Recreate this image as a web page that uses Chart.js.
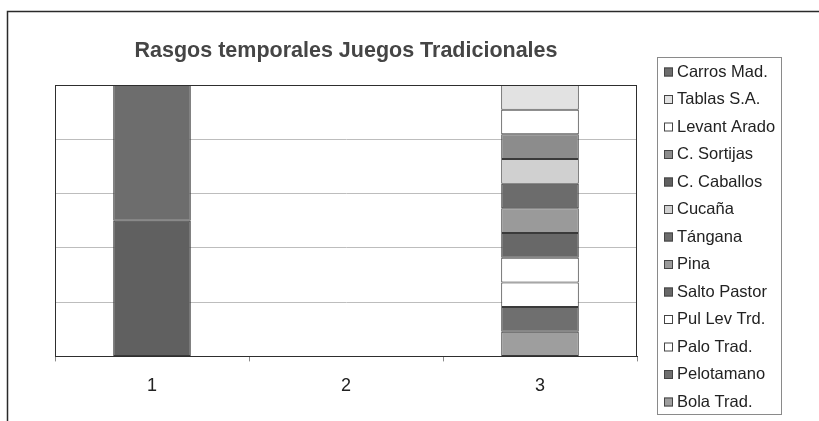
<!DOCTYPE html>
<html>
<head>
<meta charset="utf-8">
<script src="https://cdn.jsdelivr.net/npm/chart.js@4/dist/chart.umd.min.js"></script>
<style>
  html, body { margin: 0; padding: 0; background: #ffffff; }
  #wrap { width: 819px; height: 421px; position: relative; }
</style>
</head>
<body>
<div id="wrap"><canvas id="c" width="819" height="421"></canvas></div>
<script>
// Categories on the x axis
const categories = ['1', '2', '3'];

// Games, listed bottom of the stack first
const games = [
  'Bola Trad.', 'Pelotamano', 'Palo Trad.', 'Pul Lev Trd.', 'Salto Pastor',
  'Pina', 'Tángana', 'Cucaña', 'C. Caballos', 'C. Sortijas',
  'Levant Arado', 'Tablas S.A.', 'Carros Mad.'
];

// Counts per category (1, 2, 3) for each game, same order as above
const bolaTrad    = [0, 0, 1];
const pelotamano  = [0, 0, 1];
const paloTrad    = [0, 0, 1];
const pulLevTrd   = [0, 0, 1];
const saltoPastor = [0, 0, 1];
const pina        = [0, 0, 1];
const tangana     = [0, 0, 1];
const cucana      = [0, 0, 1];
const cCaballos   = [1, 0, 0];
const cSortijas   = [0, 0, 1];
const levantArado = [0, 0, 1];
const tablasSA    = [0, 0, 1];
const carrosMad   = [1, 0, 0];

const counts = [bolaTrad, pelotamano, paloTrad, pulLevTrd, saltoPastor, pina,
  tangana, cucana, cCaballos, cSortijas, levantArado, tablasSA, carrosMad];

// Grey fills for each game
const fills = ['#9e9e9e', '#6f6f6f', '#ffffff', '#ffffff', '#686868', '#9a9a9a',
  '#6c6c6c', '#d0d0d0', '#606060', '#8c8c8c', '#ffffff', '#e2e2e2', '#6d6d6d'];

// 100% stacked: share of each game inside its category
const totals = categories.map((_, i) => counts.reduce((s, row) => s + row[i], 0));
const datasets = games.map((name, k) => ({
  label: name,
  data: counts[k].map((v, i) => (v && totals[i]) ? v / totals[i] * 100 : null),
  backgroundColor: fills[k],
  borderColor: '#3a3a3a',
  borderWidth: 1,
  borderSkipped: false,
  barPercentage: 0.4,
  categoryPercentage: 1
}));

const FONT = '"Liberation Sans", Arial, sans-serif';

// Frame around the whole figure, the plot box and the legend box
const decorations = {
  id: 'decorations',
  beforeDraw(chart) {
    const ctx = chart.ctx;
    ctx.save();
    ctx.fillStyle = '#ffffff';
    ctx.fillRect(0, 0, chart.width, chart.height);
    ctx.strokeStyle = '#2a2a2a';
    ctx.lineWidth = 1.5;
    ctx.beginPath();
    ctx.moveTo(7.5, chart.height);
    ctx.lineTo(7.5, 11.5);
    ctx.lineTo(chart.width, 11.5);
    ctx.stroke();
    ctx.restore();
  },
  afterDraw(chart) {
    const ctx = chart.ctx;
    const a = chart.chartArea;
    ctx.save();
    ctx.strokeStyle = '#2e2e2e';
    ctx.lineWidth = 1;
    ctx.strokeRect(Math.round(a.left) + 0.5, Math.round(a.top) + 0.5,
      Math.round(a.right - a.left) - 1, Math.round(a.bottom - a.top));

    // legend
    const lx = 657, ly = 57, lw = 124, lh = 357;
    ctx.strokeStyle = '#8a8a8a';
    ctx.strokeRect(lx + 0.5, ly + 0.5, lw, lh);
    ctx.font = '16.5px ' + FONT;
    ctx.textBaseline = 'middle';
    ctx.textAlign = 'left';
    const items = chart.data.datasets.slice().reverse();
    items.forEach((ds, i) => {
      const cy = 72 + i * 27.5;
      ctx.fillStyle = ds.backgroundColor;
      ctx.fillRect(664, cy - 4.5, 9, 9);
      ctx.strokeStyle = '#444444';
      ctx.strokeRect(664.5, cy - 4, 8, 8);
      ctx.fillStyle = '#222222';
      ctx.fillText(ds.label, 677, cy);
    });
    ctx.restore();
  }
};

new Chart(document.getElementById('c'), {
  type: 'bar',
  data: { labels: categories, datasets },
  options: {
    responsive: false,
    animation: false,
    layout: { padding: { top: 0, left: 55, right: 182, bottom: 10 } },
    plugins: {
      legend: { display: false },
      tooltip: { enabled: false },
      title: {
        display: true,
        text: 'Rasgos temporales Juegos Tradicionales',
        color: '#454545',
        font: { family: FONT, size: 21.5, weight: 'bold' },
        padding: { top: 38.5, bottom: 20.7 }
      }
    },
    scales: {
      x: {
        stacked: true,
        grid: { display: true, offset: true, drawOnChartArea: false, drawTicks: true, tickLength: 5, color: '#8a8a8a' },
        border: { display: true, color: '#2e2e2e' },
        ticks: { color: '#222222', font: { family: FONT, size: 18 }, padding: 14 }
      },
      y: {
        stacked: true,
        min: 0,
        max: 100,
        ticks: { display: false, stepSize: 20 },
        grid: { color: '#bdbdbd', drawTicks: false },
        border: { display: true, color: '#2e2e2e' }
      }
    }
  },
  plugins: [decorations]
});
</script>
</body>
</html>
